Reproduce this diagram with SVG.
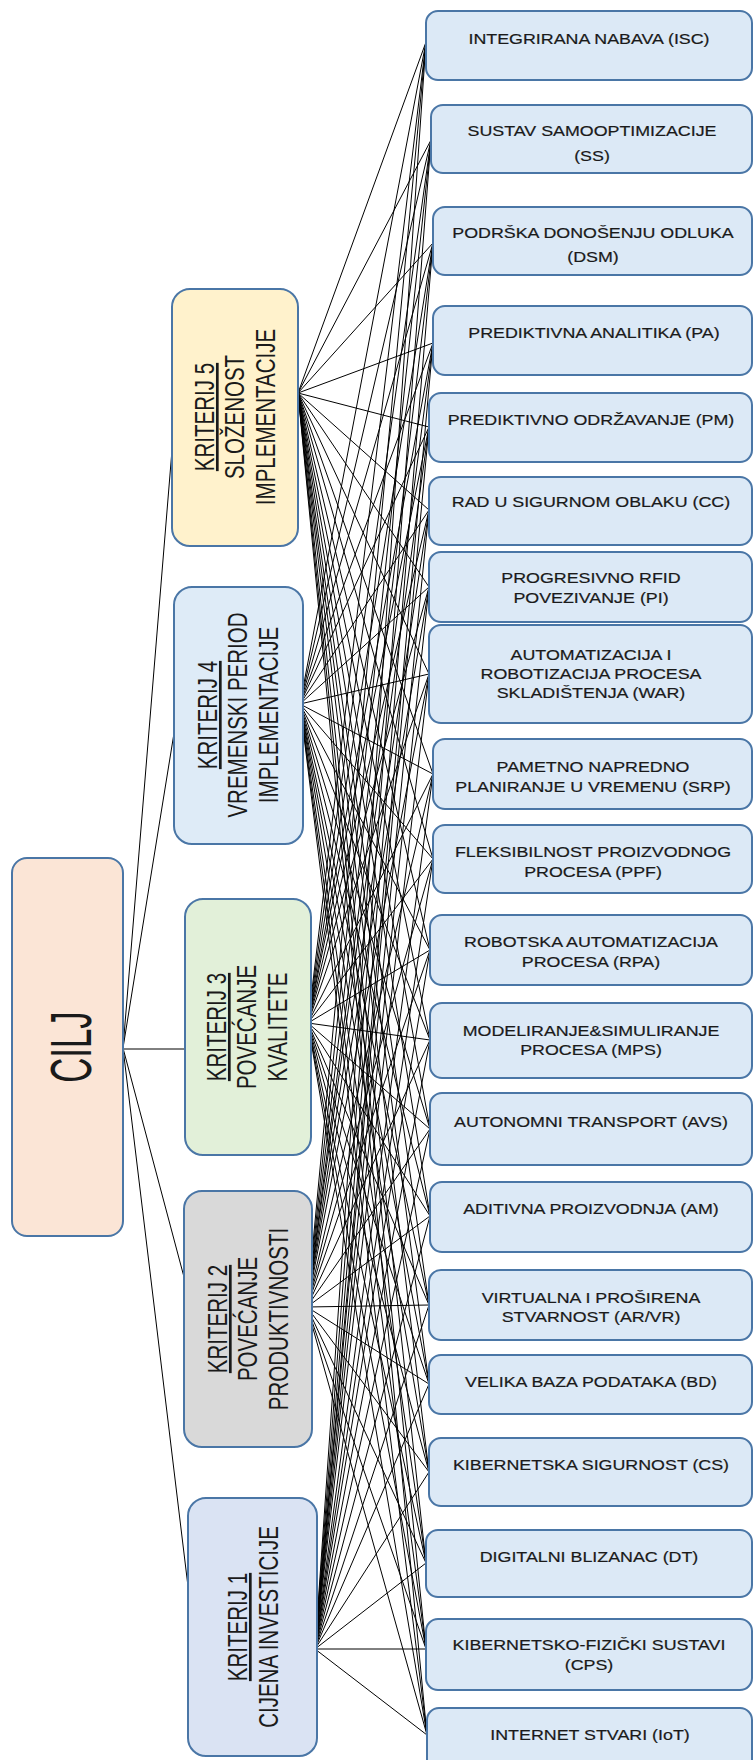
<svg xmlns="http://www.w3.org/2000/svg" width="753" height="1760" viewBox="0 0 753 1760">
<style>
.bg{fill:#ffffff}
.box{stroke:#4a76a6;stroke-width:2}
.alt{fill:#dce9f6}
.t{font-family:"Liberation Sans",Arial,sans-serif;font-size:15px;fill:#1a1a1a;text-anchor:middle;stroke:#1a1a1a;stroke-width:0.2}
.kt{font-family:"Liberation Sans",Arial,sans-serif;font-size:27px;fill:#1a1a1a;text-anchor:middle}
.ct{font-family:"Liberation Sans",Arial,sans-serif;font-size:58px;fill:#1a1a1a;text-anchor:middle}
.c line{stroke:#000000;stroke-width:1}
</style>
<rect class="bg" x="0" y="0" width="753" height="1760"/>
<g id="connectors" class="c">
<line x1="123" y1="1048" x2="172" y2="450"/>
<line x1="123" y1="1048" x2="175" y2="727"/>
<line x1="123" y1="1049" x2="185" y2="1049"/>
<line x1="123" y1="1048" x2="184" y2="1277"/>
<line x1="123" y1="1048" x2="190" y2="1603"/>
<line x1="298" y1="393" x2="426" y2="42"/>
<line x1="298" y1="393" x2="431" y2="140"/>
<line x1="298" y1="393" x2="433" y2="243"/>
<line x1="298" y1="393" x2="433" y2="343"/>
<line x1="298" y1="393" x2="429" y2="427"/>
<line x1="298" y1="393" x2="429" y2="510"/>
<line x1="298" y1="393" x2="429" y2="587"/>
<line x1="298" y1="393" x2="429" y2="674"/>
<line x1="298" y1="393" x2="433" y2="774"/>
<line x1="298" y1="393" x2="433" y2="859"/>
<line x1="298" y1="393" x2="430" y2="950"/>
<line x1="298" y1="393" x2="430" y2="1040"/>
<line x1="298" y1="393" x2="430" y2="1129"/>
<line x1="298" y1="393" x2="430" y2="1216"/>
<line x1="298" y1="393" x2="429" y2="1305"/>
<line x1="298" y1="393" x2="429" y2="1384"/>
<line x1="298" y1="393" x2="429" y2="1472"/>
<line x1="298" y1="393" x2="426" y2="1563"/>
<line x1="298" y1="393" x2="426" y2="1649"/>
<line x1="298" y1="393" x2="427" y2="1735"/>
<line x1="300" y1="704" x2="426" y2="42"/>
<line x1="300" y1="704" x2="431" y2="140"/>
<line x1="300" y1="704" x2="433" y2="243"/>
<line x1="300" y1="704" x2="433" y2="343"/>
<line x1="300" y1="704" x2="429" y2="427"/>
<line x1="300" y1="704" x2="429" y2="510"/>
<line x1="300" y1="704" x2="429" y2="587"/>
<line x1="300" y1="704" x2="429" y2="674"/>
<line x1="300" y1="704" x2="433" y2="774"/>
<line x1="300" y1="704" x2="433" y2="859"/>
<line x1="300" y1="704" x2="430" y2="950"/>
<line x1="300" y1="704" x2="430" y2="1040"/>
<line x1="300" y1="704" x2="430" y2="1129"/>
<line x1="300" y1="704" x2="430" y2="1216"/>
<line x1="300" y1="704" x2="429" y2="1305"/>
<line x1="300" y1="704" x2="429" y2="1384"/>
<line x1="300" y1="704" x2="429" y2="1472"/>
<line x1="300" y1="704" x2="426" y2="1563"/>
<line x1="300" y1="704" x2="426" y2="1649"/>
<line x1="300" y1="704" x2="427" y2="1735"/>
<line x1="308" y1="1023" x2="426" y2="42"/>
<line x1="308" y1="1023" x2="431" y2="140"/>
<line x1="308" y1="1023" x2="433" y2="243"/>
<line x1="308" y1="1023" x2="433" y2="343"/>
<line x1="308" y1="1023" x2="429" y2="427"/>
<line x1="308" y1="1023" x2="429" y2="510"/>
<line x1="308" y1="1023" x2="429" y2="587"/>
<line x1="308" y1="1023" x2="429" y2="674"/>
<line x1="308" y1="1023" x2="433" y2="774"/>
<line x1="308" y1="1023" x2="433" y2="859"/>
<line x1="308" y1="1023" x2="430" y2="950"/>
<line x1="308" y1="1023" x2="430" y2="1040"/>
<line x1="308" y1="1023" x2="430" y2="1129"/>
<line x1="308" y1="1023" x2="430" y2="1216"/>
<line x1="308" y1="1023" x2="429" y2="1305"/>
<line x1="308" y1="1023" x2="429" y2="1384"/>
<line x1="308" y1="1023" x2="429" y2="1472"/>
<line x1="308" y1="1023" x2="426" y2="1563"/>
<line x1="308" y1="1023" x2="426" y2="1649"/>
<line x1="308" y1="1023" x2="427" y2="1735"/>
<line x1="307" y1="1307" x2="426" y2="42"/>
<line x1="307" y1="1307" x2="431" y2="140"/>
<line x1="307" y1="1307" x2="433" y2="243"/>
<line x1="307" y1="1307" x2="433" y2="343"/>
<line x1="307" y1="1307" x2="429" y2="427"/>
<line x1="307" y1="1307" x2="429" y2="510"/>
<line x1="307" y1="1307" x2="429" y2="587"/>
<line x1="307" y1="1307" x2="429" y2="674"/>
<line x1="307" y1="1307" x2="433" y2="774"/>
<line x1="307" y1="1307" x2="433" y2="859"/>
<line x1="307" y1="1307" x2="430" y2="950"/>
<line x1="307" y1="1307" x2="430" y2="1040"/>
<line x1="307" y1="1307" x2="430" y2="1129"/>
<line x1="307" y1="1307" x2="430" y2="1216"/>
<line x1="307" y1="1307" x2="429" y2="1305"/>
<line x1="307" y1="1307" x2="429" y2="1384"/>
<line x1="307" y1="1307" x2="429" y2="1472"/>
<line x1="307" y1="1307" x2="426" y2="1563"/>
<line x1="307" y1="1307" x2="426" y2="1649"/>
<line x1="307" y1="1307" x2="427" y2="1735"/>
<line x1="315" y1="1649" x2="426" y2="42"/>
<line x1="315" y1="1649" x2="431" y2="140"/>
<line x1="315" y1="1649" x2="433" y2="243"/>
<line x1="315" y1="1649" x2="433" y2="343"/>
<line x1="315" y1="1649" x2="429" y2="427"/>
<line x1="315" y1="1649" x2="429" y2="510"/>
<line x1="315" y1="1649" x2="429" y2="587"/>
<line x1="315" y1="1649" x2="429" y2="674"/>
<line x1="315" y1="1649" x2="433" y2="774"/>
<line x1="315" y1="1649" x2="433" y2="859"/>
<line x1="315" y1="1649" x2="430" y2="950"/>
<line x1="315" y1="1649" x2="430" y2="1040"/>
<line x1="315" y1="1649" x2="430" y2="1129"/>
<line x1="315" y1="1649" x2="430" y2="1216"/>
<line x1="315" y1="1649" x2="429" y2="1305"/>
<line x1="315" y1="1649" x2="429" y2="1384"/>
<line x1="315" y1="1649" x2="429" y2="1472"/>
<line x1="315" y1="1649" x2="426" y2="1563"/>
<line x1="315" y1="1649" x2="426" y2="1649"/>
<line x1="315" y1="1649" x2="427" y2="1735"/>
</g>
<g id="cilj">
<rect class="box" x="12" y="858" width="111" height="378" rx="15" fill="#fbe5d6"/>
<g transform="translate(70,1047) rotate(-90) scale(0.6,1)"><text class="ct" x="0" y="20.8">CILJ</text></g>
</g>
<g id="k5">
<rect class="box" x="172" y="289" width="126" height="257" rx="18" fill="#fff2cc"/>
<g transform="translate(235,417) rotate(-90) scale(0.76,1)">
<text class="kt" x="0" y="-21.3" text-decoration="underline">KRITERIJ 5</text>
<text class="kt" x="0" y="9.2">SLOŽENOST</text>
<text class="kt" x="0" y="39.7">IMPLEMENTACIJE</text>
</g>
</g>
<g id="k4">
<rect class="box" x="174" y="587" width="129" height="257" rx="18" fill="#deebf7"/>
<g transform="translate(238,715) rotate(-90) scale(0.76,1)">
<text class="kt" x="0" y="-21.3" text-decoration="underline">KRITERIJ 4</text>
<text class="kt" x="0" y="9.2">VREMENSKI PERIOD</text>
<text class="kt" x="0" y="39.7">IMPLEMENTACIJE</text>
</g>
</g>
<g id="k3">
<rect class="box" x="185" y="899" width="126" height="256" rx="18" fill="#e2f0d9"/>
<g transform="translate(247,1027) rotate(-90) scale(0.76,1)">
<text class="kt" x="0" y="-21.3" text-decoration="underline">KRITERIJ 3</text>
<text class="kt" x="0" y="9.2">POVEĆANJE</text>
<text class="kt" x="0" y="39.7">KVALITETE</text>
</g>
</g>
<g id="k2">
<rect class="box" x="184" y="1191" width="128" height="256" rx="18" fill="#d9d9d9"/>
<g transform="translate(248,1319) rotate(-90) scale(0.76,1)">
<text class="kt" x="0" y="-21.3" text-decoration="underline">KRITERIJ 2</text>
<text class="kt" x="0" y="9.2">POVEĆANJE</text>
<text class="kt" x="0" y="39.7">PRODUKTIVNOSTI</text>
</g>
</g>
<g id="k1">
<rect class="box" x="188" y="1498" width="129" height="258" rx="18" fill="#dae3f3"/>
<g transform="translate(252.5,1627) rotate(-90) scale(0.76,1)">
<text class="kt" x="0" y="-5.8" text-decoration="underline">KRITERIJ 1</text>
<text class="kt" x="0" y="25.2">CIJENA INVESTICIJE</text>
</g>
</g>
<g id="isc"><rect class="box alt" x="426" y="11" width="326" height="69" rx="12"/>
<text class="t" transform="translate(589,0) scale(1.19,1)" x="0" y="44.4">INTEGRIRANA NABAVA (ISC)</text></g>
<g id="ss"><rect class="box alt" x="431" y="105" width="321" height="68" rx="12"/>
<text class="t" transform="translate(592,0) scale(1.19,1)" x="0" y="136.5">SUSTAV SAMOOPTIMIZACIJE</text>
<text class="t" transform="translate(592,0) scale(1.19,1)" x="0" y="161.5">(SS)</text></g>
<g id="dsm"><rect class="box alt" x="433" y="207" width="319" height="68" rx="12"/>
<text class="t" transform="translate(593,0) scale(1.19,1)" x="0" y="238.5">PODRŠKA DONOŠENJU ODLUKA</text>
<text class="t" transform="translate(593,0) scale(1.19,1)" x="0" y="262.5">(DSM)</text></g>
<g id="pa"><rect class="box alt" x="433" y="306" width="319" height="69" rx="12"/>
<text class="t" transform="translate(594,0) scale(1.19,1)" x="0" y="338.5">PREDIKTIVNA ANALITIKA (PA)</text></g>
<g id="pm"><rect class="box alt" x="429" y="393" width="323" height="69" rx="12"/>
<text class="t" transform="translate(591,0) scale(1.19,1)" x="0" y="425.5">PREDIKTIVNO ODRŽAVANJE (PM)</text></g>
<g id="cc"><rect class="box alt" x="429" y="477" width="323" height="68" rx="12"/>
<text class="t" transform="translate(591,0) scale(1.19,1)" x="0" y="507.5">RAD U SIGURNOM OBLAKU (CC)</text></g>
<g id="pi"><rect class="box alt" x="429" y="552" width="323" height="70" rx="12"/>
<text class="t" transform="translate(591,0) scale(1.19,1)" x="0" y="583.5">PROGRESIVNO RFID</text>
<text class="t" transform="translate(591,0) scale(1.19,1)" x="0" y="603.5">POVEZIVANJE (PI)</text></g>
<g id="war"><rect class="box alt" x="429" y="625" width="323" height="98" rx="12"/>
<text class="t" transform="translate(591,0) scale(1.19,1)" x="0" y="660.5">AUTOMATIZACIJA I</text>
<text class="t" transform="translate(591,0) scale(1.19,1)" x="0" y="679.5">ROBOTIZACIJA PROCESA</text>
<text class="t" transform="translate(591,0) scale(1.19,1)" x="0" y="698.5">SKLADIŠTENJA (WAR)</text></g>
<g id="srp"><rect class="box alt" x="433" y="739" width="319" height="70" rx="12"/>
<text class="t" transform="translate(593,0) scale(1.19,1)" x="0" y="772.5">PAMETNO NAPREDNO</text>
<text class="t" transform="translate(593,0) scale(1.19,1)" x="0" y="792.5">PLANIRANJE U VREMENU (SRP)</text></g>
<g id="ppf"><rect class="box alt" x="433" y="825" width="319" height="68" rx="12"/>
<text class="t" transform="translate(593,0) scale(1.19,1)" x="0" y="857.5">FLEKSIBILNOST PROIZVODNOG</text>
<text class="t" transform="translate(593,0) scale(1.19,1)" x="0" y="877.5">PROCESA (PPF)</text></g>
<g id="rpa"><rect class="box alt" x="430" y="915" width="322" height="70" rx="12"/>
<text class="t" transform="translate(591,0) scale(1.19,1)" x="0" y="947.5">ROBOTSKA AUTOMATIZACIJA</text>
<text class="t" transform="translate(591,0) scale(1.19,1)" x="0" y="967.5">PROCESA (RPA)</text></g>
<g id="mps"><rect class="box alt" x="430" y="1003" width="322" height="75" rx="12"/>
<text class="t" transform="translate(591,0) scale(1.19,1)" x="0" y="1036.5">MODELIRANJE&amp;SIMULIRANJE</text>
<text class="t" transform="translate(591,0) scale(1.19,1)" x="0" y="1055.5">PROCESA (MPS)</text></g>
<g id="avs"><rect class="box alt" x="430" y="1093" width="322" height="72" rx="12"/>
<text class="t" transform="translate(591,0) scale(1.19,1)" x="0" y="1127.5">AUTONOMNI TRANSPORT (AVS)</text></g>
<g id="am"><rect class="box alt" x="430" y="1182" width="322" height="70" rx="12"/>
<text class="t" transform="translate(591,0) scale(1.19,1)" x="0" y="1214.5">ADITIVNA PROIZVODNJA (AM)</text></g>
<g id="arvr"><rect class="box alt" x="429" y="1270" width="323" height="70" rx="12"/>
<text class="t" transform="translate(591,0) scale(1.19,1)" x="0" y="1303.5">VIRTUALNA I PROŠIRENA</text>
<text class="t" transform="translate(591,0) scale(1.19,1)" x="0" y="1322.5">STVARNOST (AR/VR)</text></g>
<g id="bd"><rect class="box alt" x="429" y="1355" width="323" height="59" rx="12"/>
<text class="t" transform="translate(591,0) scale(1.19,1)" x="0" y="1387.5">VELIKA BAZA PODATAKA (BD)</text></g>
<g id="cs"><rect class="box alt" x="429" y="1438" width="323" height="68" rx="12"/>
<text class="t" transform="translate(591,0) scale(1.19,1)" x="0" y="1470.5">KIBERNETSKA SIGURNOST (CS)</text></g>
<g id="dt"><rect class="box alt" x="426" y="1530" width="326" height="67" rx="12"/>
<text class="t" transform="translate(589,0) scale(1.19,1)" x="0" y="1562.5">DIGITALNI BLIZANAC (DT)</text></g>
<g id="cps"><rect class="box alt" x="426" y="1619" width="326" height="71" rx="12"/>
<text class="t" transform="translate(589,0) scale(1.19,1)" x="0" y="1650.5">KIBERNETSKO-FIZIČKI SUSTAVI</text>
<text class="t" transform="translate(589,0) scale(1.19,1)" x="0" y="1670.5">(CPS)</text></g>
<g id="iot"><rect class="box alt" x="427" y="1708" width="325" height="66" rx="12"/>
<text class="t" transform="translate(590,0) scale(1.19,1)" x="0" y="1740.5">INTERNET STVARI (IoT)</text></g>
</svg>
